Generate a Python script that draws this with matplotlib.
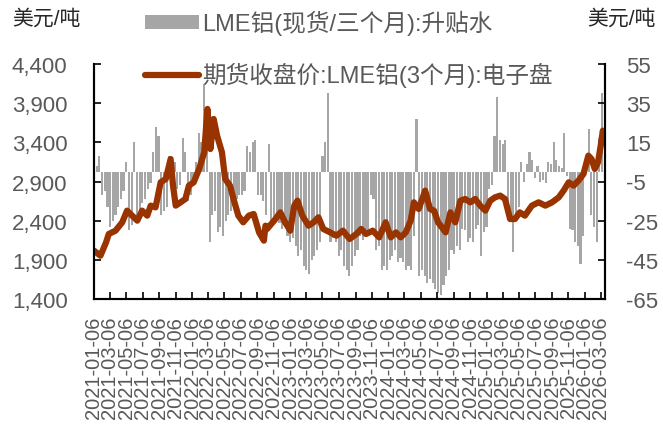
import matplotlib
matplotlib.use("Agg")
import matplotlib.pyplot as plt
from matplotlib.patches import Patch
from matplotlib.lines import Line2D
import pandas as pd

plt.rcParams['font.family'] = ['Liberation Sans', 'Noto Sans CJK SC', 'DejaVu Sans']

# ---------------- data ----------------
price_dates = [
    "2021-01-06", "2021-01-30", "2021-02-20", "2021-03-02", "2021-03-27", "2021-04-21",
    "2021-05-09", "2021-05-28", "2021-06-16", "2021-07-04", "2021-07-23", "2021-08-05",
    "2021-08-23", "2021-09-11", "2021-09-30", "2021-10-18", "2021-10-27", "2021-11-06",
    "2021-11-24", "2021-12-12", "2021-12-25", "2022-01-12", "2022-02-01", "2022-02-20",
    "2022-03-04", "2022-03-15", "2022-03-27", "2022-04-09", "2022-04-27", "2022-05-09",
    "2022-05-27", "2022-06-09", "2022-06-27", "2022-07-15", "2022-08-05", "2022-08-23",
    "2022-09-12", "2022-09-30", "2022-10-06", "2022-10-12", "2022-11-12", "2022-11-30",
    "2022-12-18", "2023-01-06", "2023-01-21", "2023-02-02", "2023-02-20", "2023-03-15",
    "2023-04-03", "2023-04-21", "2023-05-09", "2023-06-03", "2023-06-27", "2023-07-21",
    "2023-08-15", "2023-09-09", "2023-09-27", "2023-10-15", "2023-11-09", "2023-12-03",
    "2023-12-27", "2024-01-15", "2024-02-03", "2024-02-21", "2024-03-11", "2024-03-29",
    "2024-04-10", "2024-04-28", "2024-05-22", "2024-06-09", "2024-06-24", "2024-07-09",
    "2024-08-06", "2024-08-24", "2024-09-11", "2024-09-30", "2024-10-18", "2024-11-06",
    "2024-11-24", "2024-12-13", "2025-01-01", "2025-01-19", "2025-02-06", "2025-02-25",
    "2025-03-15", "2025-04-03", "2025-04-21", "2025-05-09", "2025-05-28", "2025-06-23",
    "2025-07-18", "2025-08-12", "2025-09-06", "2025-10-01", "2025-10-19", "2025-11-07",
    "2025-11-25", "2025-12-13", "2026-01-01", "2026-01-19", "2026-01-31", "2026-02-12",
    "2026-02-24", "2026-03-06", "2026-03-14", "2026-03-21",
]
price_values = [
    2017, 1953, 2124, 2230, 2272, 2379,
    2528, 2464, 2400, 2528, 2464, 2592,
    2570, 2890, 2932, 3187, 2847, 2592,
    2634, 2677, 2847, 2890, 3060, 3272,
    3826, 3315, 3698, 3485, 3272, 2932,
    2847, 2677, 2464, 2379, 2464, 2485,
    2251, 2145, 2336, 2294, 2421, 2506,
    2379, 2272, 2592, 2655, 2464, 2336,
    2379, 2443, 2294, 2251, 2209, 2272,
    2166, 2230, 2294, 2230, 2272, 2187,
    2379, 2187, 2251, 2187, 2251, 2400,
    2634, 2549, 2783, 2549, 2528, 2379,
    2251, 2506, 2379, 2655, 2677, 2634,
    2677, 2592, 2528, 2655, 2698, 2720,
    2677, 2421, 2421, 2506, 2464, 2592,
    2634, 2592, 2634, 2698, 2783, 2890,
    2847, 2911, 2996, 3230, 3187, 3060,
    3145, 3357, 3549, 3400,
]

spread_start = "2021-01-06"
spread_step_days = 10
spread_values = [
    3, 3, 8, -12, -10, -18, -28, -25, -22, -18,
    -14, -10, 5, -30, -27, 15, -22, -20, -16, -14,
    -9, -6, 10, 23, 18, -22, -20, -18, 8, -9,
    5, -9, -7, 17, 10, -15, -12, -7, 5, 20,
    15, 45, 25, -36, -22, -20, -31, -28, -33, -25,
    -22, -20, -15, -14, -12, -12, -10, 13, 10, 15,
    16, -12, -12, -15, -22, 14, -25, -26, -24, -26,
    -29, -27, -33, -36, -34, -38, -43, -40, -48, -50,
    -52, -45, -43, -40, -36, 8, 15, 40, -36, -34,
    -36, -43, -40, -48, -50, -53, -48, -43, -40, -33,
    -35, -30, -33, -12, -14, -40, -38, -50, -48, -50,
    -45, -43, -40, -46, -44, -46, -50, -48, -50, -33,
    27, -53, -50, -53, -57, -55, -57, -60, -62, -63,
    -58, -53, -50, -40, -42, -38, -40, -29, -30, -36,
    -34, -36, -29, -27, -43, -31, -28, -9, -7, 18,
    38, 16, 14, 16, -17, -22, -41, -22, -18, 5,
    -5, 4, 10, 6, -3, 3, -5, -4, -6, 5,
    4, 15, 6, 3, 2, 20, -2, -29, -30, -36,
    -38, -47, -33, 8, 22, -22, -28, -36, 17, 40,
    25,
]

tick_years = [2021, 2022, 2023, 2024, 2025, 2026]
tick_months = [1, 3, 5, 7, 9, 11]
tick_day = 6
last_tick = "2026-03-06"

left_ticks = [1400, 1900, 2400, 2900, 3400, 3900, 4400]
right_ticks = [-65, -45, -25, -5, 15, 35, 55]

spread_label = "LME铝(现货/三个月):升贴水"
price_label = "期货收盘价:LME铝(3个月):电子盘"
unit_label = "美元/吨"

# ---------------- figure ----------------
W, H, DPI = 663, 439, 100
fig = plt.figure(figsize=(W / DPI, H / DPI), dpi=DPI)
ax1 = fig.add_axes([94 / W, 1 - 300 / H, (605 - 94) / W, (300 - 65) / H])
ax2 = ax1.twinx()
ax1.set_zorder(ax2.get_zorder() + 1)
ax1.patch.set_visible(False)

pdates = pd.to_datetime(price_dates)
sdates = pd.date_range(spread_start, periods=len(spread_values), freq=f"{spread_step_days}D")

bar_color = "#A6A6A6"
line_color = "#993300"

ax2.bar(sdates, spread_values, width=8, color=bar_color, linewidth=0, align="center")
ax1.plot(pdates, price_values, color=line_color, linewidth=4.5, solid_capstyle="round",
         solid_joinstyle="round")

ax1.set_ylim(1400, 4400)
ax2.set_ylim(-65, 55)
ax1.set_yticks(left_ticks)
ax1.set_yticklabels([f"{v:,}" for v in left_ticks])
ax2.set_yticks(right_ticks)
ax2.set_yticklabels([str(v) for v in right_ticks])

xticks = [pd.Timestamp(y, m, tick_day) for y in tick_years for m in tick_months
          if pd.Timestamp(y, m, tick_day) <= pd.Timestamp(last_tick)]
ax1.set_xlim(pd.Timestamp("2021-01-06"), pd.Timestamp("2026-03-22"))
ax1.set_xticks(xticks)
ax1.set_xticklabels([t.strftime("%Y-%m-%d") for t in xticks], rotation=90)

tick_color = "#595959"
for a in (ax1, ax2):
    a.tick_params(direction="in", length=5, width=1.2, colors="black",
                  labelcolor=tick_color, labelsize=16)
    a.spines["top"].set_visible(False)
    for s in ("left", "right", "bottom"):
        a.spines[s].set_linewidth(1.5)
        a.spines[s].set_color("black")
ax1.tick_params(axis="x", labelsize=14.5, pad=12)
ax1.tick_params(axis="y", pad=19)
ax2.tick_params(axis="y", pad=15)

fig.text(12 / W, 1 - 19 / H, unit_label, fontsize=15, color="#262626", va="center", ha="left")
fig.text(656 / W, 1 - 19 / H, unit_label, fontsize=15, color="#262626", va="center", ha="right")

handles = [Patch(facecolor=bar_color, edgecolor="none"),
           Line2D([0], [0], color=line_color, linewidth=4.5, solid_capstyle="round")]
leg = fig.legend(handles, [spread_label, price_label], loc="upper left",
                 bbox_to_anchor=(145 / W, 1 - 11 / H), frameon=False,
                 fontsize=17, handlelength=2.3, handleheight=0.5,
                 labelspacing=1.14, handletextpad=0.13, borderaxespad=0, borderpad=0)
for t in leg.get_texts():
    t.set_color("#595959")

fig.savefig("out.png", dpi=DPI)
